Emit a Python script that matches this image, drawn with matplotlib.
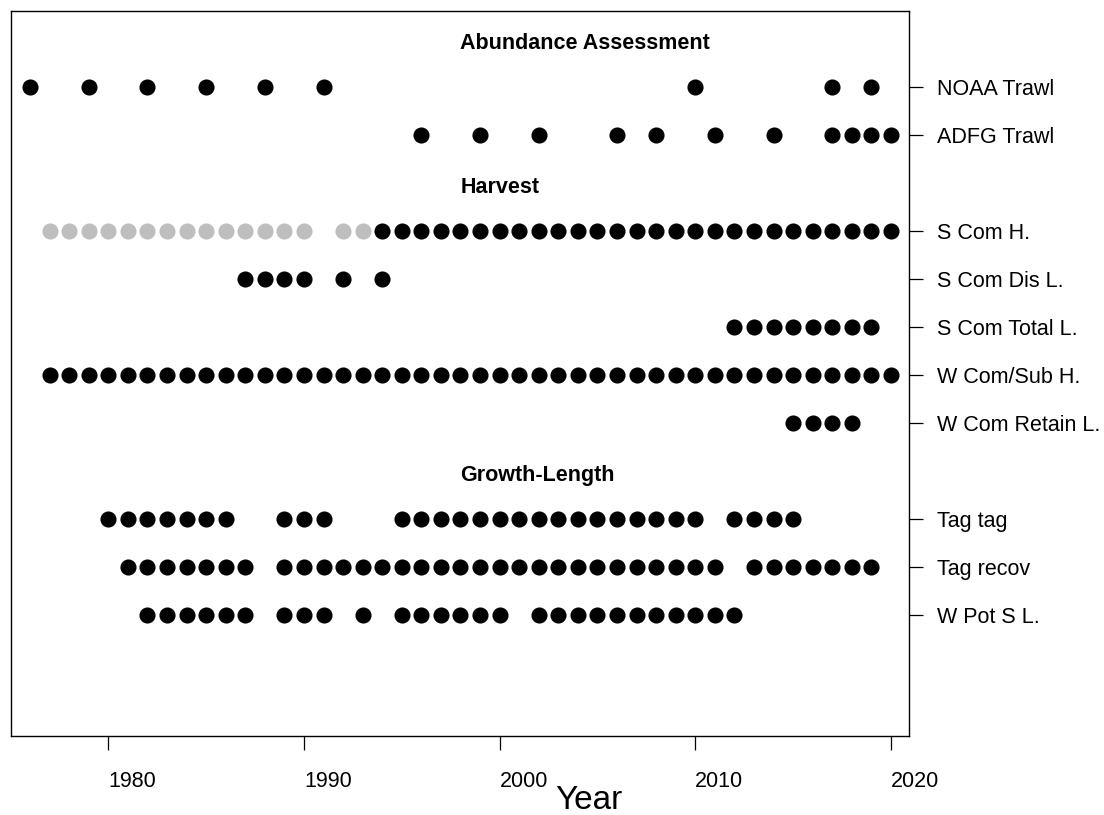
import matplotlib

matplotlib.use("Agg")
import matplotlib.pyplot as plt

plt.rcParams["font.family"] = ["Liberation Sans", "DejaVu Sans"]

# series labels, top to bottom, and the years with data
series_labels = [
    "NOAA Trawl",
    "ADFG Trawl",
    "S Com H.",
    "S Com Dis L.",
    "S Com Total L.",
    "W Com/Sub H.",
    "W Com Retain L.",
    "Tag tag",
    "Tag recov",
    "W Pot S L.",
]
series_rows = [12, 11, 9, 8, 7, 6, 5, 3, 2, 1]

noaa_trawl = [1976, 1979, 1982, 1985, 1988, 1991, 2010, 2017, 2019]
adfg_trawl = [1996, 1999, 2002, 2006, 2008, 2011, 2014, 2017, 2018, 2019, 2020]
s_com_h_grey = list(range(1977, 1991)) + [1992, 1993]
s_com_h = list(range(1994, 2021))
s_com_dis_l = [1987, 1988, 1989, 1990, 1992, 1994]
s_com_total_l = list(range(2012, 2020))
w_com_sub_h = list(range(1977, 2021))
w_com_retain_l = [2015, 2016, 2017, 2018]
tag_tag = list(range(1980, 1987)) + [1989, 1990, 1991] + list(range(1995, 2011)) + list(range(2012, 2016))
tag_recov = list(range(1981, 1988)) + list(range(1989, 2012)) + list(range(2013, 2020))
w_pot_s_l = list(range(1982, 1988)) + [1989, 1990, 1991, 1993] + list(range(1995, 2001)) + list(range(2002, 2013))

series_years = [
    noaa_trawl,
    adfg_trawl,
    s_com_h,
    s_com_dis_l,
    s_com_total_l,
    w_com_sub_h,
    w_com_retain_l,
    tag_tag,
    tag_recov,
    w_pot_s_l,
]

group_titles = ["Abundance Assessment", "Harvest", "Growth-Length"]
group_rows = [13, 10, 4]
group_title_x = 1998

x_ticks = [1980, 1990, 2000, 2010, 2020]


def main() -> None:
    fig = plt.figure(figsize=(11.04, 8.15), dpi=100)
    ax = fig.add_axes([11 / 1104, 1 - 736 / 815, 898 / 1104, 725 / 815])

    ms = 11.6
    ax.plot(s_com_h_grey, [9] * len(s_com_h_grey), "o", color="#BEBEBE", ms=ms, mec="none")
    for years, row in zip(series_years, series_rows):
        ax.plot(years, [row] * len(years), "o", color="black", ms=ms, mec="none")

    # titles sit a touch below their row
    for title, row in zip(group_titles, group_rows):
        ax.text(group_title_x, row - 0.09, title, fontsize=15.5, fontweight="bold", ha="left", va="center")

    ax.set_xlim(1975.03, 2020.92)
    ax.set_ylim(-1.52, 13.58)

    ax.set_xticks(x_ticks)
    ax.set_xticklabels([str(t) for t in x_ticks], ha="left", fontsize=15.5)
    ax.tick_params(axis="x", direction="out", length=10, width=0.9, pad=15)

    ax.yaxis.tick_right()
    ax.set_yticks(series_rows)
    ax.set_yticklabels(series_labels, fontsize=15.5)
    ax.tick_params(axis="y", direction="out", length=10, width=0.9, pad=10)

    for spine in ax.spines.values():
        spine.set_linewidth(1.0)

    fig.text(589 / 1104, 1 - 809 / 815, "Year", ha="center", va="baseline", fontsize=24)

    fig.savefig("out.png", dpi=100)
    plt.close(fig)


if __name__ == "__main__":
    main()
